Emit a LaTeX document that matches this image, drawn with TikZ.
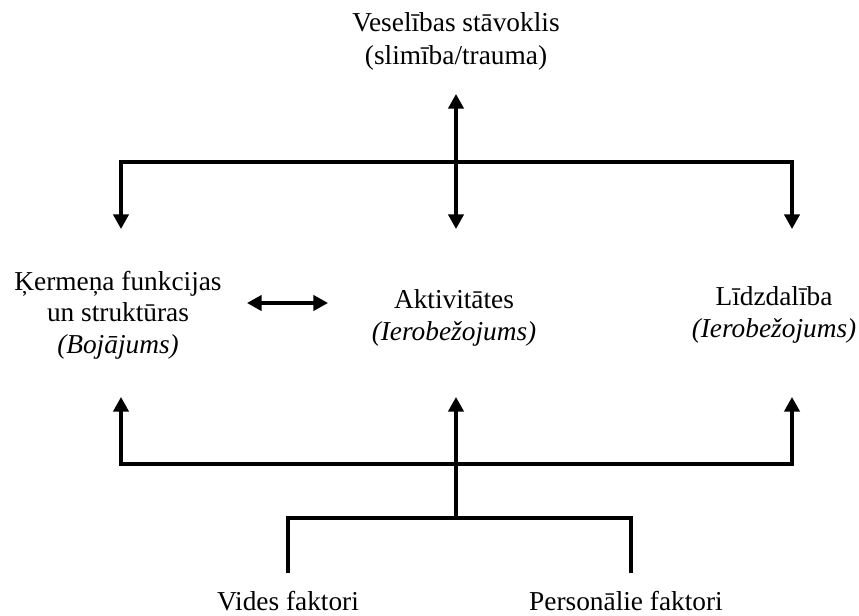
\documentclass[tikz,border=0pt]{standalone}
\usepackage{fontspec}
\setmainfont{Liberation Serif}
\usetikzlibrary{arrows.meta}
\begin{document}
\begin{tikzpicture}[x=0.75pt,y=-0.75pt,
  conn/.style={line width=2.4pt, line join=miter},
  tipA/.style={-{Triangle[length=11pt,width=11.5pt]}},
  tipB/.style={{Triangle[length=11pt,width=11.5pt]}-{Triangle[length=11pt,width=11.5pt]}},
  lbl/.style={font=\fontsize{20.5}{23.5}\selectfont, align=center, inner sep=0pt, anchor=base}]
\useasboundingbox (0,0) rectangle (859,615);
% texts (base anchor = baseline of the last line)
\node[lbl, font=\fontsize{20.5}{24.75}\selectfont] (health) at (456,64) {Veselības stāvoklis\\(slimība/trauma)};
\node[lbl] (body) at (118,353) {Ķermeņa funkcijas\\un struktūras\\\textit{(Bojājums)}};
\node[lbl] (act) at (454,340) {Aktivitātes\\\textit{(Ierobežojums)}};
\node[lbl] (part) at (774,337) {Līdzdalība\\\textit{(Ierobežojums)}};
\node[lbl] (env) at (288,610) {Vides faktori};
\node[lbl] (pers) at (626,610) {Personālie faktori};
% junction coordinates
\coordinate (tbL) at (121,162);
\coordinate (tbR) at (792,162);
\coordinate (upTip) at (456,94);
\coordinate (dL) at (121,229);
\coordinate (dC) at (456,229);
\coordinate (dR) at (792,229);
\coordinate (bbL) at (121,464);
\coordinate (bbR) at (792,464);
\coordinate (uL) at (121,397);
\coordinate (uC) at (456,397);
\coordinate (uR) at (792,397);
\coordinate (fbL) at (288,518);
\coordinate (fbC) at (456,518);
\coordinate (fbR) at (631,518);
\coordinate (fL) at (288,573);
\coordinate (fR) at (631,573);
\coordinate (dbl1) at (247,303);
\coordinate (dbl2) at (328,303);
% connectors
\draw[conn,tipB] (dL) -- (tbL) -- (tbR) -- (dR);
\draw[conn,tipB] (upTip) -- (dC);
\draw[conn,tipB] (uL) -- (bbL) -- (bbR) -- (uR);
\draw[conn,tipA] (fbC) -- (uC);
\draw[conn] (fL) -- (fbL) -- (fbR) -- (fR);
\draw[conn,tipB] (dbl1) -- (dbl2);
\end{tikzpicture}
\end{document}
